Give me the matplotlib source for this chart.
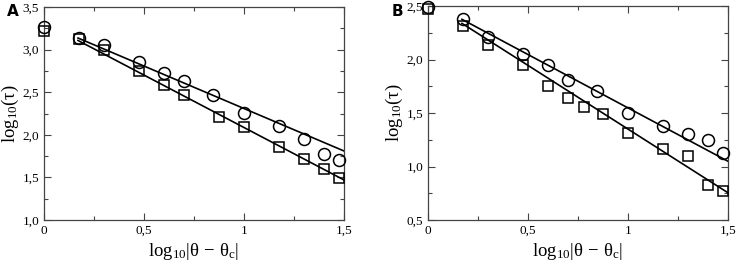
import numpy as np
import matplotlib.pyplot as plt
from matplotlib.ticker import MultipleLocator, FuncFormatter

# x positions (log10 |theta - theta_c|)
xa_circ = [0.0, 0.176, 0.301, 0.477, 0.602, 0.699, 0.845, 1.0, 1.176, 1.301, 1.398, 1.477]
ya_circ = [3.27, 3.14, 3.05, 2.86, 2.73, 2.63, 2.47, 2.26, 2.10, 1.95, 1.77, 1.71]
xa_sq = [0.0, 0.176, 0.301, 0.477, 0.602, 0.699, 0.875, 1.0, 1.176, 1.301, 1.398, 1.477]
ya_sq = [3.22, 3.13, 2.99, 2.75, 2.58, 2.47, 2.21, 2.09, 1.86, 1.72, 1.60, 1.49]

xb_circ = [0.0, 0.176, 0.301, 0.477, 0.602, 0.699, 0.845, 1.0, 1.176, 1.301, 1.398, 1.477]
yb_circ = [2.49, 2.38, 2.21, 2.05, 1.95, 1.81, 1.71, 1.50, 1.38, 1.30, 1.25, 1.13]
xb_sq = [0.0, 0.176, 0.301, 0.477, 0.602, 0.699, 0.778, 0.875, 1.0, 1.176, 1.301, 1.398, 1.477]
yb_sq = [2.47, 2.31, 2.14, 1.95, 1.75, 1.64, 1.56, 1.49, 1.31, 1.16, 1.10, 0.83, 0.77]

# fitted lines: (slope, intercept)
fit_a_circ = (-0.997, 3.306)
fit_a_sq = (-1.231, 3.317)
fit_b_circ = (-0.997, 2.545)
fit_b_sq = (-1.19, 2.54)
fit_range = [0.17, 1.5]

panels = [
    dict(label='A', xc=xa_circ, yc=ya_circ, xs=xa_sq, ys=ya_sq,
         fc=fit_a_circ, fs=fit_a_sq, ylim=(1.0, 3.5),
         rect=[0.0597, 0.157, 0.407, 0.816]),
    dict(label='B', xc=xb_circ, yc=yb_circ, xs=xb_sq, ys=yb_sq,
         fc=fit_b_circ, fs=fit_b_sq, ylim=(0.5, 2.5),
         rect=[0.5807, 0.157, 0.407, 0.820]),
]

plt.rcParams['font.family'] = 'Liberation Serif'
plt.rcParams['mathtext.fontset'] = 'custom'
plt.rcParams['mathtext.rm'] = 'Liberation Serif'
plt.rcParams['mathtext.it'] = 'Liberation Serif'

def fmt_x(v, pos):
    if abs(v - round(v)) < 1e-9:
        return '%d' % round(v)
    return ('%.1f' % v).replace('.', ',')

def fmt_y(v, pos):
    return ('%.1f' % v).replace('.', ',')

fig = plt.figure(figsize=(7.37, 2.61), dpi=100)
for p in panels:
    ax = fig.add_axes(p['rect'])
    xf = np.array(fit_range)
    for (m, b) in (p['fc'], p['fs']):
        ax.plot(xf, m * xf + b, color='black', lw=1.2)
    ax.plot(p['xc'], p['yc'], 'o', mfc='none', mec='black', ms=8.6, mew=1.1,
            clip_on=False, zorder=5)
    ax.plot(p['xs'], p['ys'], 's', mfc='none', mec='black', ms=7.2, mew=1.1,
            clip_on=False, zorder=5)
    ax.set_xlim(0, 1.5)
    ax.set_ylim(*p['ylim'])
    ax.xaxis.set_major_locator(MultipleLocator(0.5))
    ax.xaxis.set_minor_locator(MultipleLocator(0.25))
    ax.yaxis.set_major_locator(MultipleLocator(0.5))
    ax.yaxis.set_minor_locator(MultipleLocator(0.25))
    ax.xaxis.set_major_formatter(FuncFormatter(fmt_x))
    ax.yaxis.set_major_formatter(FuncFormatter(fmt_y))
    ax.tick_params(which='both', direction='in', top=True, right=True,
                   labelsize=9.5, color='#444444', width=0.8)
    ax.tick_params(which='major', length=5)
    ax.tick_params(which='minor', length=3)
    for s in ax.spines.values():
        s.set_color('#444444')
        s.set_linewidth(0.9)
    ax.set_xlabel(r'$\mathrm{log}_{10}|\theta\,-\,\theta_{\mathrm{c}}|$', fontsize=13.5, labelpad=3)
    ax.set_ylabel(r'$\mathrm{log}_{10}(\tau)$', fontsize=13.5, labelpad=1)
    x0 = p['rect'][0]
    fig.text(x0 - 0.05, 0.955, p['label'], family='DejaVu Sans',
             fontweight='bold', fontsize=11, ha='left', va='center')

fig.savefig('out.png', dpi=100)
